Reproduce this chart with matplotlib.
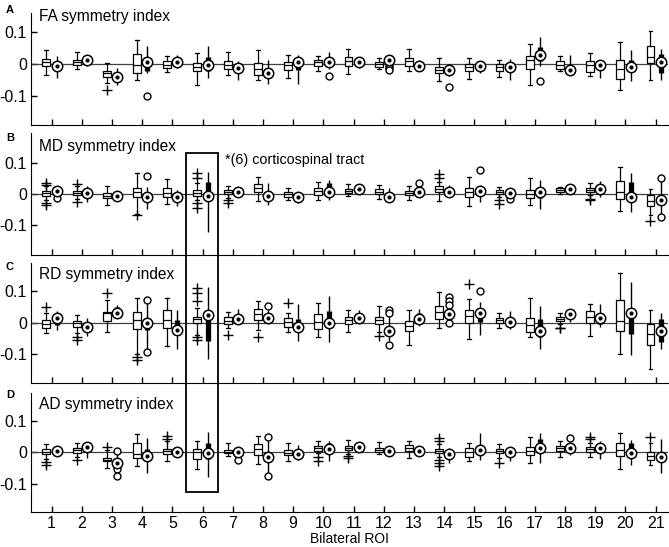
import matplotlib.pyplot as plt
from matplotlib.patches import Rectangle

plt.rcParams['font.family'] = ['Liberation Sans', 'DejaVu Sans']

ROI = list(range(1, 22))

# (whisker low, q1, median, q3, whisker high) per ROI
FA_LEFT = [(-0.034, -0.007, 0.005, 0.016, 0.045), (-0.016, -0.003, 0.005, 0.012, 0.038),
           (-0.060, -0.041, -0.030, -0.021, 0.003), (-0.051, -0.028, -0.002, 0.032, 0.077),
           (-0.026, -0.013, -0.002, 0.008, 0.024), (-0.065, -0.023, -0.009, 0.003, 0.035),
           (-0.034, -0.016, -0.003, 0.008, 0.038), (-0.051, -0.034, -0.015, 0.003, 0.043),
           (-0.046, -0.018, -0.003, 0.005, 0.029), (-0.023, -0.005, 0.006, 0.014, 0.024),
           (-0.032, -0.007, 0.008, 0.021, 0.047), (-0.016, -0.009, 0.000, 0.006, 0.019),
           (-0.021, -0.005, 0.008, 0.019, 0.048), (-0.053, -0.028, -0.018, -0.009, 0.019),
           (-0.049, -0.021, -0.010, 0.000, 0.018), (-0.041, -0.021, -0.009, 0.000, 0.014),
           (-0.065, -0.016, 0.011, 0.024, 0.063), (-0.021, -0.016, -0.003, 0.008, 0.026),
           (-0.039, -0.026, -0.004, 0.010, 0.035), (-0.081, -0.049, -0.016, 0.014, 0.069),
           (-0.051, 0.003, 0.022, 0.058, 0.103)]
FA_RIGHT = [(-0.044, -0.018, -0.008, 0.010, 0.026), (-0.007, 0.003, 0.012, 0.016, 0.024),
            (-0.065, -0.049, -0.041, -0.034, -0.013), (-0.030, -0.023, 0.005, 0.014, 0.056),
            (-0.013, 0.001, 0.007, 0.014, 0.029), (-0.044, -0.023, -0.002, 0.021, 0.058),
            (-0.051, -0.020, -0.013, -0.005, 0.008), (-0.062, -0.037, -0.028, -0.013, 0.012),
            (-0.063, -0.020, 0.005, 0.008, 0.029), (-0.016, -0.005, 0.005, 0.010, 0.038),
            (-0.013, 0.000, 0.007, 0.012, 0.019), (0.001, 0.005, 0.014, 0.018, 0.024),
            (-0.020, -0.013, -0.005, 0.001, 0.012), (-0.037, -0.026, -0.018, -0.007, 0.000),
            (-0.028, -0.020, -0.007, 0.003, 0.005), (-0.051, -0.017, -0.009, -0.002, 0.016),
            (-0.007, 0.008, 0.029, 0.052, 0.085), (-0.036, -0.030, -0.020, -0.007, 0.027),
            (-0.044, -0.020, -0.004, 0.006, 0.014), (-0.055, -0.023, -0.010, 0.014, 0.043),
            (-0.051, -0.030, 0.005, 0.032, 0.047)]
FA_LEFT_OUT = {3: [-0.083]}
FA_RIGHT_OUT = {4: [-0.102], 10: [-0.037], 12: [-0.005, -0.013, -0.020], 14: [-0.074], 17: [-0.055]}

MD_LEFT = [(-0.020, -0.006, 0.002, 0.011, 0.024), (-0.017, -0.003, 0.004, 0.011, 0.024),
           (-0.035, -0.014, -0.005, 0.004, 0.025), (-0.064, -0.011, 0.005, 0.018, 0.066),
           (-0.032, -0.011, 0.004, 0.018, 0.047), (-0.020, -0.006, 0.004, 0.013, 0.035),
           (-0.014, 0.000, 0.007, 0.013, 0.025), (-0.022, 0.007, 0.018, 0.031, 0.055),
           (-0.019, -0.008, 0.000, 0.007, 0.018), (-0.019, -0.003, 0.010, 0.018, 0.039),
           (-0.006, 0.002, 0.009, 0.016, 0.032), (-0.017, 0.000, 0.007, 0.015, 0.029),
           (-0.019, -0.003, 0.004, 0.010, 0.027), (-0.021, 0.007, 0.017, 0.025, 0.039),
           (-0.038, -0.008, 0.007, 0.018, 0.055), (-0.008, 0.000, 0.006, 0.013, 0.023),
           (-0.035, -0.014, -0.001, 0.013, 0.050), (0.000, 0.007, 0.012, 0.018, 0.023),
           (-0.004, 0.007, 0.012, 0.018, 0.034), (-0.053, -0.017, 0.007, 0.041, 0.087),
           (-0.067, -0.038, -0.022, -0.003, 0.016)]
MD_RIGHT = [(-0.006, 0.002, 0.010, 0.014, 0.023), (-0.024, -0.003, 0.002, 0.011, 0.025),
            (-0.019, -0.011, -0.006, -0.001, 0.007), (-0.049, -0.017, -0.008, 0.000, 0.023),
            (-0.038, -0.019, -0.008, 0.000, 0.013), (-0.120, -0.012, -0.006, 0.039, 0.071),
            (-0.003, 0.000, 0.007, 0.013, 0.023), (-0.035, -0.014, -0.005, 0.007, 0.036),
            (-0.030, -0.017, -0.008, 0.000, 0.004), (-0.019, 0.000, 0.007, 0.036, 0.045),
            (0.004, 0.010, 0.015, 0.018, 0.022), (-0.024, -0.014, -0.008, 0.000, 0.018),
            (-0.003, 0.002, 0.007, 0.013, 0.018), (-0.006, 0.000, 0.007, 0.015, 0.029),
            (-0.024, 0.000, 0.010, 0.018, 0.029), (-0.008, -0.003, 0.004, 0.010, 0.018),
            (-0.049, -0.014, 0.005, 0.008, 0.045), (0.007, 0.012, 0.016, 0.020, 0.023),
            (-0.008, 0.007, 0.016, 0.022, 0.041), (-0.059, -0.012, -0.011, 0.039, 0.066),
            (-0.065, -0.035, -0.019, -0.005, 0.040)]
MD_LEFT_OUT = {1: [0.036, 0.030, -0.028, -0.036], 2: [0.033, -0.025], 4: [-0.068],
               6: [0.066, 0.052, -0.030, -0.044], 7: [-0.020, -0.028], 14: [0.063, 0.050],
               16: [-0.019, -0.032], 19: [-0.016, -0.018], 21: [-0.085]}
MD_RIGHT_OUT = {1: [-0.014], 4: [0.057], 13: [0.034], 15: [0.076], 16: [-0.017], 21: [0.050, -0.075]}

RD_LEFT = [(-0.034, -0.018, -0.004, 0.009, 0.030), (-0.034, -0.013, -0.002, 0.006, 0.025),
           (-0.029, 0.006, 0.030, 0.035, 0.073), (-0.099, -0.022, 0.009, 0.035, 0.078),
           (-0.075, -0.018, 0.009, 0.041, 0.078), (-0.040, -0.002, 0.011, 0.019, 0.046),
           (-0.018, -0.004, 0.006, 0.017, 0.035), (-0.024, 0.009, 0.027, 0.043, 0.068),
           (-0.031, -0.015, 0.003, 0.014, 0.032), (-0.047, -0.020, 0.003, 0.027, 0.062),
           (-0.029, -0.004, 0.009, 0.017, 0.039), (-0.029, -0.004, 0.009, 0.019, 0.052),
           (-0.072, -0.026, -0.010, 0.005, 0.039), (-0.018, 0.012, 0.035, 0.052, 0.097),
           (-0.051, 0.000, 0.022, 0.041, 0.075), (-0.018, 0.000, 0.008, 0.014, 0.032),
           (-0.047, -0.029, -0.008, 0.016, 0.078), (-0.004, 0.005, 0.011, 0.017, 0.032),
           (-0.043, 0.000, 0.019, 0.038, 0.059), (-0.101, -0.026, 0.005, 0.073, 0.159),
           (-0.147, -0.072, -0.038, -0.005, 0.041)]
RD_RIGHT = [(-0.024, -0.008, 0.014, 0.020, 0.038), (-0.043, -0.022, -0.013, -0.004, 0.014),
            (0.019, 0.025, 0.032, 0.049, 0.057), (-0.085, -0.025, 0.000, 0.008, 0.065),
            (-0.083, -0.029, -0.024, 0.009, 0.041), (-0.115, -0.058, 0.025, 0.039, 0.114),
            (-0.004, 0.004, 0.011, 0.017, 0.043), (0.000, 0.008, 0.016, 0.024, 0.040),
            (-0.058, -0.024, -0.015, 0.012, 0.060), (-0.061, -0.018, -0.002, 0.038, 0.084),
            (0.003, 0.010, 0.016, 0.022, 0.041), (-0.060, -0.040, -0.026, -0.010, 0.020),
            (-0.011, 0.003, 0.012, 0.030, 0.043), (0.005, 0.020, 0.027, 0.035, 0.045),
            (-0.040, 0.003, 0.030, 0.035, 0.065), (-0.022, -0.005, 0.003, 0.010, 0.038),
            (-0.085, -0.047, -0.027, 0.011, 0.054), (0.003, 0.022, 0.028, 0.032, 0.039),
            (-0.015, -0.004, 0.016, 0.025, 0.059), (-0.104, -0.037, 0.032, 0.035, 0.129),
            (-0.085, -0.061, -0.027, 0.012, 0.030)]
RD_LEFT_OUT = {1: [0.049], 2: [-0.045, -0.056], 3: [0.095], 4: [-0.110, -0.120],
               6: [0.110, 0.095, 0.068, -0.047, -0.056], 7: [-0.040], 8: [-0.047], 9: [0.062],
               12: [-0.043], 15: [0.124], 18: [-0.017, -0.019]}
RD_RIGHT_OUT = {4: [0.073, -0.094], 8: [0.052], 12: [0.039, 0.032, -0.072],
                14: [0.081, 0.068, 0.056, -0.002], 15: [0.100]}

AD_LEFT = [(-0.022, -0.005, 0.002, 0.009, 0.025), (-0.014, -0.001, 0.006, 0.013, 0.030),
           (-0.050, -0.029, -0.024, -0.017, 0.007), (-0.043, -0.019, -0.005, 0.028, 0.058),
           (-0.029, -0.005, 0.004, 0.009, 0.034), (-0.054, -0.022, 0.002, 0.009, 0.036),
           (-0.012, -0.003, 0.002, 0.008, 0.028), (-0.037, -0.008, 0.009, 0.026, 0.053),
           (-0.029, -0.008, -0.001, 0.007, 0.030), (-0.004, 0.005, 0.013, 0.021, 0.036),
           (-0.005, 0.007, 0.014, 0.020, 0.039), (-0.005, 0.002, 0.007, 0.013, 0.032),
           (-0.019, 0.004, 0.013, 0.023, 0.034), (-0.015, -0.003, 0.004, 0.009, 0.025),
           (-0.029, -0.014, 0.002, 0.013, 0.028), (-0.019, -0.003, 0.004, 0.011, 0.025),
           (-0.035, -0.008, 0.004, 0.015, 0.047), (-0.014, 0.005, 0.012, 0.020, 0.036),
           (-0.016, 0.002, 0.010, 0.018, 0.030), (-0.054, -0.012, 0.007, 0.030, 0.062),
           (-0.040, -0.024, -0.012, 0.002, 0.028)]
AD_RIGHT = [(-0.012, -0.003, 0.005, 0.012, 0.018), (-0.019, 0.007, 0.015, 0.018, 0.023),
            (-0.045, -0.038, -0.033, -0.024, -0.003), (-0.066, -0.016, -0.012, 0.009, 0.044),
            (-0.012, -0.005, 0.000, 0.007, 0.013), (-0.079, -0.022, -0.003, 0.028, 0.065),
            (-0.012, -0.005, 0.000, 0.007, 0.013), (-0.065, -0.025, -0.016, -0.005, 0.040),
            (-0.024, -0.012, -0.005, 0.002, 0.023), (-0.029, 0.005, 0.011, 0.030, 0.034),
            (0.002, 0.007, 0.016, 0.020, 0.023), (-0.005, -0.001, 0.004, 0.009, 0.013),
            (-0.005, 0.000, 0.005, 0.012, 0.018), (-0.033, -0.014, -0.005, 0.002, 0.013),
            (-0.024, -0.005, 0.007, 0.013, 0.060), (-0.029, -0.005, 0.002, 0.007, 0.018),
            (-0.035, 0.002, 0.013, 0.041, 0.060), (-0.010, 0.002, 0.013, 0.018, 0.025),
            (-0.021, 0.002, 0.013, 0.023, 0.034), (-0.040, -0.006, -0.003, 0.028, 0.039),
            (-0.066, -0.024, -0.014, -0.003, 0.041)]
AD_LEFT_OUT = {1: [-0.030, -0.040], 2: [-0.024], 3: [0.018], 5: [0.051, 0.041],
               10: [-0.016, -0.029], 11: [-0.012, -0.019], 14: [0.044, 0.034, -0.024, -0.033, -0.043],
               16: [-0.033], 19: [0.049, 0.042], 21: [0.047]}
AD_RIGHT_OUT = {3: [0.004, -0.054, -0.077], 7: [-0.024], 8: [0.049, -0.075], 18: [0.046]}

TITLES = ['FA symmetry index', 'MD symmetry index', 'RD symmetry index', 'AD symmetry index']
LETTERS = ['A', 'B', 'C', 'D']

W, H = 669, 547
OFF = 0.17


def draw_panel(ax, left, right, left_out, right_out):
    # classic boxes on the left of each ROI
    stats = []
    for roi, (lo, q1, med, q3, hi) in zip(ROI, left):
        stats.append(dict(whislo=lo, q1=q1, med=med, q3=q3, whishi=hi,
                          fliers=left_out.get(roi, [])))
    ax.bxp(stats, positions=[r - OFF for r in ROI], widths=0.26, capwidths=0.13,
           patch_artist=True, manage_ticks=False, zorder=3,
           boxprops=dict(facecolor='white', edgecolor='black', linewidth=0.9),
           medianprops=dict(color='black', linewidth=0.9),
           whiskerprops=dict(color='black', linewidth=0.9),
           capprops=dict(color='black', linewidth=0.9),
           flierprops=dict(marker='+', markeredgecolor='black', markersize=6.5,
                           markeredgewidth=1.0, linestyle='none'))

    # compact boxes on the right
    xr = [r + OFF for r in ROI]
    lo = [s[0] for s in right]
    q1 = [s[1] for s in right]
    med = [s[2] for s in right]
    q3 = [s[3] for s in right]
    hi = [s[4] for s in right]
    ax.vlines(xr, lo, hi, color='black', lw=1.0, zorder=3)
    boxes = ax.vlines(xr, q1, q3, color='black', lw=3.8, zorder=4)
    boxes.set_capstyle('butt')
    for roi, vals in right_out.items():
        ax.plot([roi + OFF] * len(vals), vals, 'o', ms=5, mfc='white', mec='black',
                mew=1.0, zorder=4)
    ax.plot(xr, med, 'o', ms=7.5, mfc='white', mec='black', mew=1.1, zorder=5)
    ax.plot(xr, med, 'o', ms=2.0, color='black', zorder=6)


fig = plt.figure(figsize=(W / 100, H / 100), dpi=100)

# axes boxes in pixels: (top, bottom)
panel_px = [(13, 125), (133, 255), (263, 383), (393, 512)]
ylims = [(-0.193, 0.161), (-0.195, 0.195), (-0.193, 0.19), (-0.19, 0.188)]
title_y = [16, 146, 275, 405]
letter_y = [10, 138, 267, 395]
data = [(FA_LEFT, FA_RIGHT, FA_LEFT_OUT, FA_RIGHT_OUT),
        (MD_LEFT, MD_RIGHT, MD_LEFT_OUT, MD_RIGHT_OUT),
        (RD_LEFT, RD_RIGHT, RD_LEFT_OUT, RD_RIGHT_OUT),
        (AD_LEFT, AD_RIGHT, AD_LEFT_OUT, AD_RIGHT_OUT)]

axes = []
for k, (top, bot) in enumerate(panel_px):
    ax = fig.add_axes([31 / W, 1 - bot / H, 637 / W, (bot - top) / H])
    ax.axhline(0, color='0.25', lw=0.9, zorder=2)
    draw_panel(ax, *data[k])
    ax.set_xlim(0.32, 21.41)
    ax.set_ylim(*ylims[k])
    ax.set_yticks([-0.1, 0, 0.1], labels=['-0.1', '0', '0.1'])
    ax.set_xticks(ROI)
    ax.spines['top'].set_visible(False)
    ax.spines['right'].set_visible(False)
    ax.tick_params(direction='in', length=4.5, width=1, labelsize=11.5, pad=3)
    ax.tick_params(axis='x', labelsize=11.5, pad=3)
    if k < 3:
        ax.tick_params(axis='x', labelbottom=False)
    fig.text(39 / W, 1 - title_y[k] / H, TITLES[k], fontsize=11.2, va='center')
    fig.text(10 / W, 1 - letter_y[k] / H, LETTERS[k], fontsize=8, fontweight='bold',
             ha='center', va='center')
    axes.append(ax)

axes[-1].set_xlabel('Bilateral ROI', fontsize=10, labelpad=0.5)

fig.text(225 / W, 1 - 160 / H, '*(6) corticospinal tract', fontsize=10.3, va='center')
fig.add_artist(Rectangle((186 / W, 1 - 492 / H), 32 / W, 339 / H, transform=fig.transFigure,
                         fill=False, lw=1.3, ec='black', zorder=10))

fig.savefig('out.png', dpi=100)
